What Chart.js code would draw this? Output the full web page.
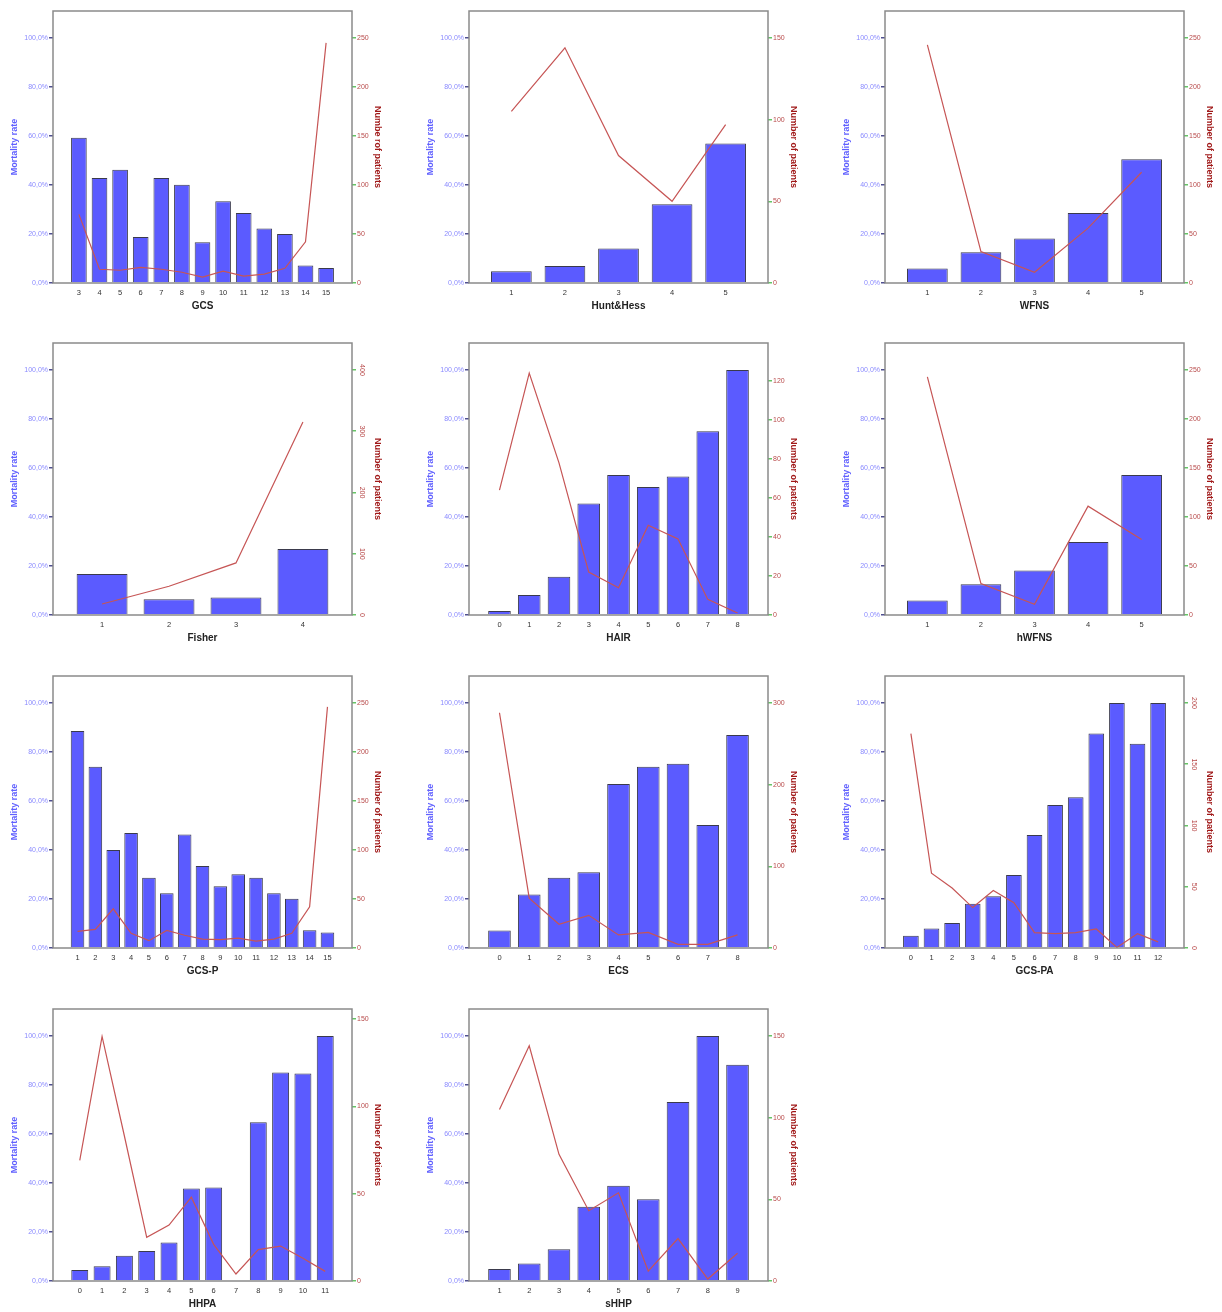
<!DOCTYPE html>
<html>
<head>
<meta charset="utf-8">
<script src="https://cdn.jsdelivr.net/npm/chart.js@4.4.1/dist/chart.umd.min.js"></script>
<style>
  html, body { margin: 0; padding: 0; background: #fff; overflow: hidden; }
  #page { position: relative; width: 1222px; height: 1312px; }
  #page canvas { position: absolute; }
</style>
</head>
<body>
<div id="page"></div>
<script>
// Score levels, mortality (%) and number of patients for each scale
const gcsLevels = [3, 4, 5, 6, 7, 8, 9, 10, 11, 12, 13, 14, 15];
const gcsMortality = [59.3, 42.9, 46.2, 18.8, 42.9, 40.1, 16.6, 33.4, 28.6, 22.2, 20.0, 7.1, 6.1];
const gcsPatients = [70, 14, 13, 16, 14, 11, 6, 12, 7, 9, 15, 42, 245];

const huntHessLevels = [1, 2, 3, 4, 5];
const huntHessMortality = [4.8, 6.9, 14.1, 32.1, 56.9];
const huntHessPatients = [105, 144, 78, 50, 97];

const wfnsLevels = [1, 2, 3, 4, 5];
const wfnsMortality = [5.9, 12.5, 18.2, 28.6, 50.5];
const wfnsPatients = [243, 32, 11, 56, 113];

const fisherLevels = [1, 2, 3, 4];
const fisherMortality = [16.7, 6.4, 7.1, 26.9];
const fisherPatients = [18, 47, 85, 315];

const hairLevels = [0, 1, 2, 3, 4, 5, 6, 7, 8];
const hairMortality = [1.6, 8.2, 15.6, 45.5, 57.1, 52.2, 56.5, 75.0, 100];
const hairPatients = [64, 124, 78, 22, 14, 46, 39, 8, 1];

const hwfnsLevels = [1, 2, 3, 4, 5];
const hwfnsMortality = [5.9, 12.5, 18.2, 29.8, 57.1];
const hwfnsPatients = [243, 32, 11, 111, 77];

const gcspLevels = [1, 2, 3, 4, 5, 6, 7, 8, 9, 10, 11, 12, 13, 14, 15];
const gcspMortality = [88.6, 74.0, 40.0, 46.9, 28.7, 22.3, 46.3, 33.5, 25.2, 30.1, 28.7, 22.3, 20.1, 7.2, 6.3];
const gcspPatients = [17, 19, 40, 15, 7.5, 18, 13, 9, 8.5, 10, 7, 9, 15, 42, 246];

const ecsLevels = [0, 1, 2, 3, 4, 5, 6, 7, 8];
const ecsMortality = [7.1, 21.8, 28.7, 30.9, 66.9, 74.0, 75.2, 50.2, 86.9];
const ecsPatients = [288, 61, 29, 40, 16, 19, 4.5, 4.5, 16];

const gcspaLevels = [0, 1, 2, 3, 4, 5, 6, 7, 8, 9, 10, 11, 12];
const gcspaMortality = [5.0, 8.0, 10.2, 18.1, 21.1, 29.8, 46.1, 58.4, 61.5, 87.5, 100, 83.4, 100];
const gcspaPatients = [175, 61, 49, 33, 47, 37, 12.5, 11.7, 12.5, 15.5, 0.5, 11.7, 5];

const hhpaLevels = [0, 1, 2, 3, 4, 5, 6, 7, 8, 9, 10, 11];
const hhpaMortality = [4.5, 6.0, 10.3, 12.2, 15.7, 37.7, 38.2, null, 64.8, 85.1, 84.7, 100];
const hhpaPatients = [69, 140, 83, 25, 32, 48, 21, 4, 18, 20, 13, 5.5];

const shhpLevels = [1, 2, 3, 4, 5, 6, 7, 8, 9];
const shhpMortality = [4.9, 7.1, 13.0, 30.3, 38.9, 33.4, 73.0, 100, 88.2];
const shhpPatients = [105, 144, 77.5, 43, 54, 6, 26, 1.2, 17];

const mortalityTicks = [0, 20, 40, 60, 80, 100];

const panels = [
  { title: 'GCS', levels: gcsLevels, mortality: gcsMortality, patients: gcsPatients, rightTitle: 'Numbe rof patients', rightMax: 277.5, rightStep: 50 },
  { title: 'Hunt&Hess', levels: huntHessLevels, mortality: huntHessMortality, patients: huntHessPatients, rightTitle: 'Number of patients', rightMax: 166.5, rightStep: 50 },
  { title: 'WFNS', levels: wfnsLevels, mortality: wfnsMortality, patients: wfnsPatients, rightTitle: 'Number of patients', rightMax: 277.5, rightStep: 50 },
  { title: 'Fisher', levels: fisherLevels, mortality: fisherMortality, patients: fisherPatients, rightTitle: 'Number of patients', rightMax: 444, rightStep: 100, rotateRight: true },
  { title: 'HAIR', levels: hairLevels, mortality: hairMortality, patients: hairPatients, rightTitle: 'Number of patients', rightMax: 139.4, rightStep: 20 },
  { title: 'hWFNS', levels: hwfnsLevels, mortality: hwfnsMortality, patients: hwfnsPatients, rightTitle: 'Number of patients', rightMax: 277.5, rightStep: 50 },
  { title: 'GCS-P', levels: gcspLevels, mortality: gcspMortality, patients: gcspPatients, rightTitle: 'Number of patients', rightMax: 277.5, rightStep: 50 },
  { title: 'ECS', levels: ecsLevels, mortality: ecsMortality, patients: ecsPatients, rightTitle: 'Number of patients', rightMax: 333, rightStep: 100 },
  { title: 'GCS-PA', levels: gcspaLevels, mortality: gcspaMortality, patients: gcspaPatients, rightTitle: 'Number of patients', rightMax: 222, rightStep: 50, rotateRight: true },
  { title: 'HHPA', levels: hhpaLevels, mortality: hhpaMortality, patients: hhpaPatients, rightTitle: 'Number of patients', rightMax: 155.7, rightStep: 50 },
  { title: 'sHHP', levels: shhpLevels, mortality: shhpMortality, patients: shhpPatients, rightTitle: 'Number of patients', rightMax: 166.5, rightStep: 50 },
];

// Grid placement of the small charts
const panelCols = [0, 416, 832];
const panelRows = [0, 332, 665, 998];
const PLOT_W = 299;   // inner plot width
const EDGE_GAP = 15.6; // extra space between frame and outer categories
const FONT = '"Liberation Sans", Arial, sans-serif';

const page = document.getElementById('page');

// Gray box around the plot area
const framePlugin = {
  id: 'frame',
  afterDatasetsDraw(chart) {
    const { ctx, chartArea: a } = chart;
    ctx.save();
    ctx.strokeStyle = '#8a8a8a';
    ctx.lineWidth = 1.5;
    ctx.strokeRect(a.left, a.top, a.right - a.left, a.bottom - a.top);
    ctx.restore();
  },
};

function makeChart(panel, index) {
  const canvas = document.createElement('canvas');
  canvas.width = 390;
  canvas.height = 333;
  canvas.style.left = panelCols[index % 3] + 'px';
  canvas.style.top = panelRows[Math.floor(index / 3)] + 'px';
  page.appendChild(canvas);

  const n = panel.levels.length;
  const spacing = (PLOT_W - 2 * EDGE_GAP) / n;
  const pad = 0.5 + EDGE_GAP / spacing;
  const first = panel.levels[0];
  const last = panel.levels[n - 1];

  const rightTicks = {
    color: '#b84a4a',
    font: { family: FONT, size: 7 },
    padding: 1,
    stepSize: panel.rightStep,
    includeBounds: false,
  };
  if (panel.rotateRight) {
    rightTicks.minRotation = -90;
    rightTicks.maxRotation = -90;
    rightTicks.crossAlign = 'center';
    rightTicks.padding = 0;
  }

  return new Chart(canvas, {
    type: 'bar',
    data: {
      datasets: [
        {
          type: 'line',
          data: panel.levels.map((x, i) => ({ x, y: panel.patients[i] })),
          yAxisID: 'y1',
          borderColor: '#c65555',
          borderWidth: 1.2,
          pointRadius: 0,
          tension: 0,
          order: 0,
        },
        {
          type: 'bar',
          data: panel.levels.map((x, i) => ({ x, y: panel.mortality[i] })),
          yAxisID: 'y',
          backgroundColor: '#5b5bff',
          borderColor: '#3a3a4c',
          borderWidth: 1,
          categoryPercentage: 0.76,
          barPercentage: 1,
          order: 1,
        },
      ],
    },
    options: {
      responsive: false,
      animation: false,
      devicePixelRatio: 1,
      layout: { padding: { top: 11, left: 0, right: 0, bottom: 0 } },
      plugins: { legend: { display: false }, tooltip: { enabled: false } },
      scales: {
        x: {
          type: 'linear',
          min: first - pad,
          max: last + pad,
          offset: false,
          afterBuildTicks: (s) => { s.ticks = panel.levels.map((v) => ({ value: v })); },
          afterFit: (s) => { s.height = 50; },
          grid: { display: false, drawTicks: false, offset: false },
          border: { display: false },
          ticks: { color: '#333', font: { family: FONT, size: 7.5 }, padding: 5, maxRotation: 0, autoSkip: false },
          title: {
            display: true,
            text: panel.title,
            color: '#222',
            font: { family: FONT, size: 10, weight: 'bold' },
            padding: { top: 0, bottom: 21 },
          },
        },
        y: {
          position: 'left',
          min: 0,
          max: 111,
          afterBuildTicks: (s) => { s.ticks = mortalityTicks.map((v) => ({ value: v })); },
          afterFit: (s) => { s.width = 53; },
          grid: { drawOnChartArea: false, tickLength: 4, color: '#505090', lineWidth: 1.5 },
          border: { display: false },
          ticks: {
            color: '#8a8aff',
            font: { family: FONT, size: 7 },
            padding: 1,
            callback: (v) => v.toFixed(1).replace('.', ',') + '%',
          },
          title: {
            display: true,
            text: 'Mortality rate',
            color: '#6060ff',
            font: { family: FONT, size: 9, weight: 'bold' },
            padding: { top: 9.6, bottom: 0 },
          },
        },
        y1: {
          position: 'right',
          min: 0,
          max: panel.rightMax,
          afterFit: (s) => { s.width = 38; },
          grid: { drawOnChartArea: false, tickLength: 4, color: '#66c466', lineWidth: 1.5 },
          border: { display: false },
          ticks: rightTicks,
          title: {
            display: true,
            text: panel.rightTitle,
            color: '#a01818',
            font: { family: FONT, size: 9, weight: 'bold' },
            padding: { top: 7.6, bottom: 0 },
          },
        },
      },
    },
    plugins: [framePlugin],
  });
}

panels.forEach(makeChart);
</script>
</body>
</html>
